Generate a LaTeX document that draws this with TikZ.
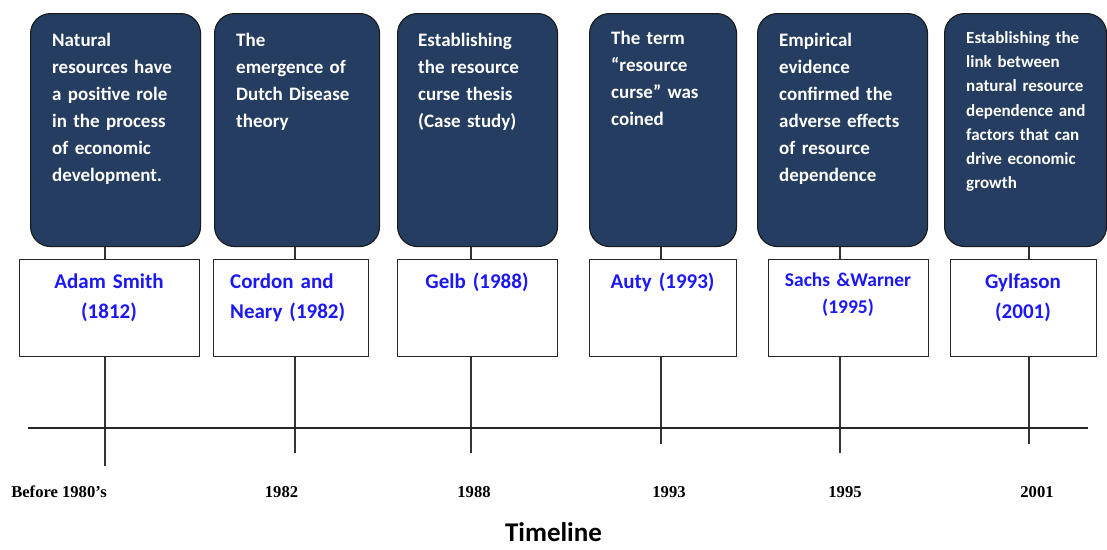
\documentclass[tikz,border=0pt]{standalone}
\usepackage{fontspec}
\setmainfont{Carlito}
\newfontfamily\yearfont{Liberation Serif}
\definecolor{boxfill}{RGB}{36,61,96}
\definecolor{bluetext}{RGB}{28,24,245}
\begin{document}
\begin{tikzpicture}[x=1pt,y=-1pt,
  darkbox/.style={draw=black!90, line width=1.1pt, fill=boxfill, rounded corners=20pt, inner sep=0pt, anchor=north west},
  whitebox/.style={draw=black!85, line width=1.3pt, fill=white, inner sep=0pt, anchor=north west},
  dtext/.style={anchor=base west, inner sep=0pt, text width=165pt, align=left, text=white, font=\bfseries\fontsize{19}{27}\selectfont},
  dtextsmall/.style={dtext, font=\bfseries\fontsize{17}{24.2}\selectfont},
  wtext/.style={anchor=base, inner sep=0pt, text width=160pt, align=center, text=bluetext, font=\bfseries\fontsize{21}{30.5}\selectfont},
  yeartext/.style={anchor=base, inner sep=0pt, font=\yearfont\bfseries\fontsize{16.6}{19}\selectfont},
  conn/.style={draw=black!80, line width=1.3pt},
  axis/.style={draw=black!85, line width=1.3pt}
]
\useasboundingbox (0,0) rectangle (1107,549);

% dark boxes
\node[darkbox, minimum width=170pt, minimum height=233pt] (d1) at (30,13) {};
\node[darkbox, minimum width=165pt, minimum height=233pt] (d2) at (214,13) {};
\node[darkbox, minimum width=160pt, minimum height=233pt] (d3) at (397,13) {};
\node[darkbox, minimum width=147pt, minimum height=233pt] (d4) at (589,13) {};
\node[darkbox, minimum width=170pt, minimum height=233pt] (d5) at (757,13) {};
\node[darkbox, minimum width=162pt, minimum height=233pt] (d6) at (944,13) {};

% dark box texts
\node[dtext] (t1) at (52,46) {Natural\\resources have\\a positive role\\in the process\\of economic\\development.};
\node[dtext] (t2) at (236,46) {The\\emergence of\\Dutch Disease\\theory};
\node[dtext] (t3) at (418,46) {Establishing\\the resource\\curse thesis\\(Case study)};
\node[dtext] (t4) at (611,44.5) {The term\\“resource\\curse” was\\coined};
\node[dtext] (t5) at (779,46) {Empirical\\evidence\\confirmed the\\adverse effects\\of resource\\dependence};
\node[dtextsmall] (t6) at (966,43.5) {Establishing the\\link between\\natural resource\\dependence and\\factors that can\\drive economic\\growth};

% white boxes
\node[whitebox, minimum width=180pt, minimum height=97pt] (w1) at (19,259) {};
\node[whitebox, minimum width=155pt, minimum height=97pt] (w2) at (213,259) {};
\node[whitebox, minimum width=160pt, minimum height=97pt] (w3) at (397,259) {};
\node[whitebox, minimum width=147pt, minimum height=97pt] (w4) at (589,259) {};
\node[whitebox, minimum width=160pt, minimum height=97pt] (w5) at (768,259) {};
\node[whitebox, minimum width=146pt, minimum height=97pt] (w6) at (950,259) {};

% white box texts
\node[wtext] (a1) at (109,288) {Adam Smith\\(1812)};
\node[wtext, anchor=base west, align=left, text width=135pt] (a2) at (230,288) {Cordon and\\Neary (1982)};
\node[wtext] (a3) at (477,288) {Gelb (1988)};
\node[wtext] (a4) at (662.5,288) {Auty (1993)};
\node[wtext, font=\bfseries\fontsize{19.5}{27.5}\selectfont] (a5) at (848,286) {Sachs \&Warner\\(1995)};
\node[wtext] (a6) at (1023,288) {Gylfason\\(2001)};

% connector x positions and lower ends
\coordinate (c1) at (105,0);
\coordinate (c2) at (295,0);
\coordinate (c3) at (471,0);
\coordinate (c4) at (661,0);
\coordinate (c5) at (840,0);
\coordinate (c6) at (1029,0);
\coordinate (e1) at (105,466);
\coordinate (e2) at (295,453);
\coordinate (e3) at (471,453);
\coordinate (e4) at (661,444);
\coordinate (e5) at (840,453);
\coordinate (e6) at (1029,444);

\foreach \i in {1,...,6}{
  \draw[conn] (d\i.south -| c\i) -- (w\i.north -| c\i);
  \draw[conn] (w\i.south -| c\i) -- (e\i);
}

% timeline axis
\coordinate (tl) at (28,428);
\coordinate (tr) at (1088,428);
\draw[axis] (tl) -- (tr);

% year labels
\node[yeartext] (y1) at (59,497) {Before 1980’s};
\node[yeartext] (y2) at (281.5,497) {1982};
\node[yeartext] (y3) at (474,497) {1988};
\node[yeartext] (y4) at (669,497) {1993};
\node[yeartext] (y5) at (845,497) {1995};
\node[yeartext] (y6) at (1037,497) {2001};

% title
\node[anchor=base, inner sep=0pt, font=\bfseries\fontsize{27}{32}\selectfont] (title) at (553.5,541) {Timeline};
\end{tikzpicture}
\end{document}
